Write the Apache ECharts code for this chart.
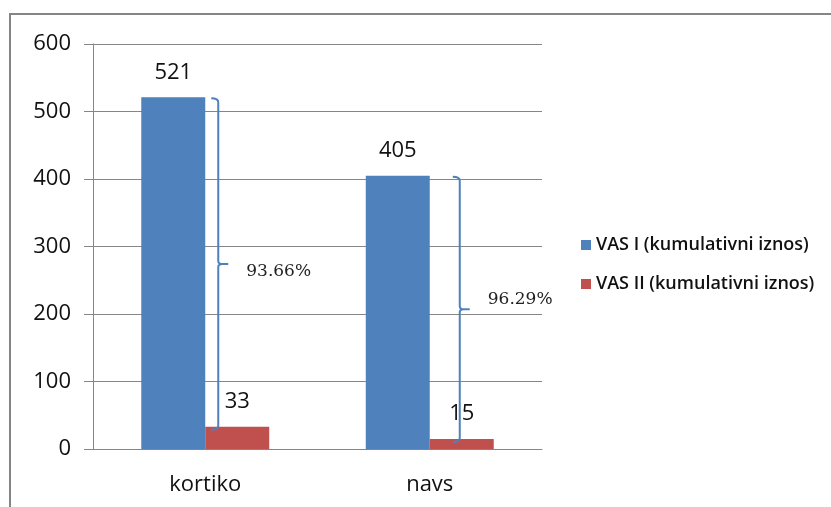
<!DOCTYPE html>
<html>
<head>
<meta charset="utf-8">
<script src="https://cdn.jsdelivr.net/npm/echarts@6/dist/echarts.min.js"></script>
<style>
  html, body { margin: 0; padding: 0; background: #fff; }
  #chart { width: 831px; height: 507px; }
</style>
</head>
<body>
<div id="chart"></div>
<script>
// podaci
const categories = ['kortiko', 'navs'];
const seriesNames = ['VAS I (kumulativni iznos)', 'VAS II (kumulativni iznos)'];
const vas1 = [521, 405];
const vas2 = [33, 15];
const pctLabels = ['93.66%', '96.29%'];
const yTicks = [0, 100, 200, 300, 400, 500, 600];

const font = '"Open Sans", "Noto Sans", sans-serif';

// zagrade izmedju VAS I i VAS II
const braceData = categories.map((c, i) => [i, vas1[i], vas2[i], pctLabels[i]]);

function renderBrace(params, api) {
  const i = params.dataIndex;
  const top = api.coord([api.value(0), api.value(1)]);
  const low = api.coord([api.value(0), api.value(2)]);
  const dx = i === 0 ? 13 : 30;
  const x = top[0] + dx;
  const y1 = top[1] + 1;
  const y2 = low[1] + 3;
  const mid = (y1 + y2) / 2;
  const path = [
    'M', x - 7, y1, 'Q', x, y1, x, y1 + 4,
    'L', x, mid - 3, 'Q', x, mid, x + 4, mid, 'L', x + 10, mid,
    'M', x + 4, mid, 'Q', x, mid, x, mid + 3,
    'L', x, y2 - 4, 'Q', x, y2, x - 7, y2
  ].join(' ');
  const lx = x + 28;
  const ly = i === 0 ? mid + 8 : mid - 10;
  return {
    type: 'group',
    children: [
      { type: 'path', shape: { pathData: path }, style: { fill: null, stroke: '#4F81BD', lineWidth: 2 } },
      { type: 'text', x: lx, y: ly, style: {
        text: api.value(3), fill: '#222', font: '17px "DejaVu Serif", serif',
        textAlign: 'left', textVerticalAlign: 'middle' } }
    ]
  };
}

const chart = echarts.init(document.getElementById('chart'));
chart.setOption({
  animation: false,
  graphic: [{
    type: 'rect', shape: { x: 10, y: 14, width: 900, height: 600 },
    style: { fill: null, stroke: '#858585', lineWidth: 2 }, silent: true
  }],
  grid: { left: 93, right: 289, top: 44, bottom: 58 },
  legend: {
    orient: 'vertical', left: 576, top: 231, itemWidth: 10, itemHeight: 10, itemGap: 21,
    icon: 'rect', data: seriesNames,
    textStyle: { fontFamily: font, fontSize: 18, color: '#111', fontWeight: 600 }
  },
  xAxis: {
    type: 'category', data: categories,
    axisLine: { lineStyle: { color: '#868686' } },
    axisTick: { length: 8, lineStyle: { color: '#868686' } },
    axisLabel: { fontFamily: font, fontSize: 22, color: '#111', margin: 25 }
  },
  yAxis: {
    type: 'value', min: 0, max: 600, interval: 100,
    axisLine: { show: true, lineStyle: { color: '#868686' } },
    axisTick: { show: true, length: 9, lineStyle: { color: '#868686' } },
    axisLabel: { fontFamily: font, fontSize: 22, color: '#111', margin: 22,
      formatter: v => yTicks.includes(v) ? String(v) : '' },
    splitLine: { lineStyle: { color: '#868686' } }
  },
  series: [
    {
      name: seriesNames[0], type: 'bar', data: vas1, barGap: '0%', barCategoryGap: '43%',
      itemStyle: { color: '#4F81BD' },
      label: { show: true, position: 'top', distance: 14, fontFamily: font, fontSize: 22, color: '#111' }
    },
    {
      name: seriesNames[1], type: 'bar', data: vas2,
      itemStyle: { color: '#C0504D' },
      label: { show: true, position: 'top', distance: 14, fontFamily: font, fontSize: 22, color: '#111' }
    },
    {
      type: 'custom', data: braceData, renderItem: renderBrace, silent: true,
      encode: { x: 0, y: [1, 2] }, z: 5
    }
  ]
});
</script>
</body>
</html>
